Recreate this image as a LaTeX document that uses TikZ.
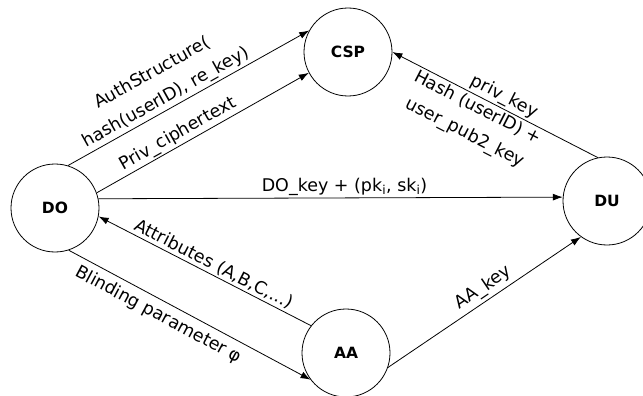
\documentclass[tikz,border=0pt]{standalone}
\usepackage{fontspec}
\setmainfont{DejaVu Sans}
\usetikzlibrary{arrows.meta}

\begin{document}
\begin{tikzpicture}[x = 1pt, y = -1pt, line width = 0.8pt,
                    party/.style = {circle, draw, minimum size = 88pt, inner sep = 0pt,
                                    font = \fontsize{15.5}{18}\selectfont\bfseries},
                    msg/.style = {-{Latex[length = 10pt, width = 7pt]}},
                    lbl/.style = {sloped, inner sep = 2pt, font = \fontsize{17.5}{21}\selectfont}]
  \useasboundingbox (0, 0) rectangle (643, 396);
  \node [party] (do)  at (55, 208)  {DO};
  \node [party] (csp) at (348, 52)  {CSP};
  \node [party] (du)  at (607, 201) {DU};
  \node [party] (aa)  at (346, 353) {AA};
  \draw [msg] (do.73) -- node [lbl, above, pos = 0.43, align = center]
        {AuthStructure(\\[7pt]hash(userID), re\_key)} (csp.151);
  \draw [msg] (do.20) -- node [lbl, above, pos = 0.41] {Priv\_ciphertext} (csp.208);
  \draw [msg] (do.12) -- node [lbl, above, pos = 0.53]
        {DO\_key + (pk\textsubscript{i}, sk\textsubscript{i})} (du.175);
  \draw [msg] (du.102) -- node [lbl, above, pos = 0.48] {priv\_key}
        node [lbl, below, pos = 0.56, align = center] {Hash (userID) +\\[7pt]user\_pub2\_key} (csp.east);
  \draw [msg] (aa.142) -- node [lbl, above, pos = 0.48] {Attributes (A,B,C,...)} (do.-11);
  \draw [msg] (do.-72) -- node [lbl, below = 4pt, pos = 0.40] {Blinding parameter φ} (aa.217);
  \draw [msg] (aa.-19) -- node [lbl, above = 1pt, pos = 0.53] {AA\_key} (du.234);
\end{tikzpicture}
\end{document}
